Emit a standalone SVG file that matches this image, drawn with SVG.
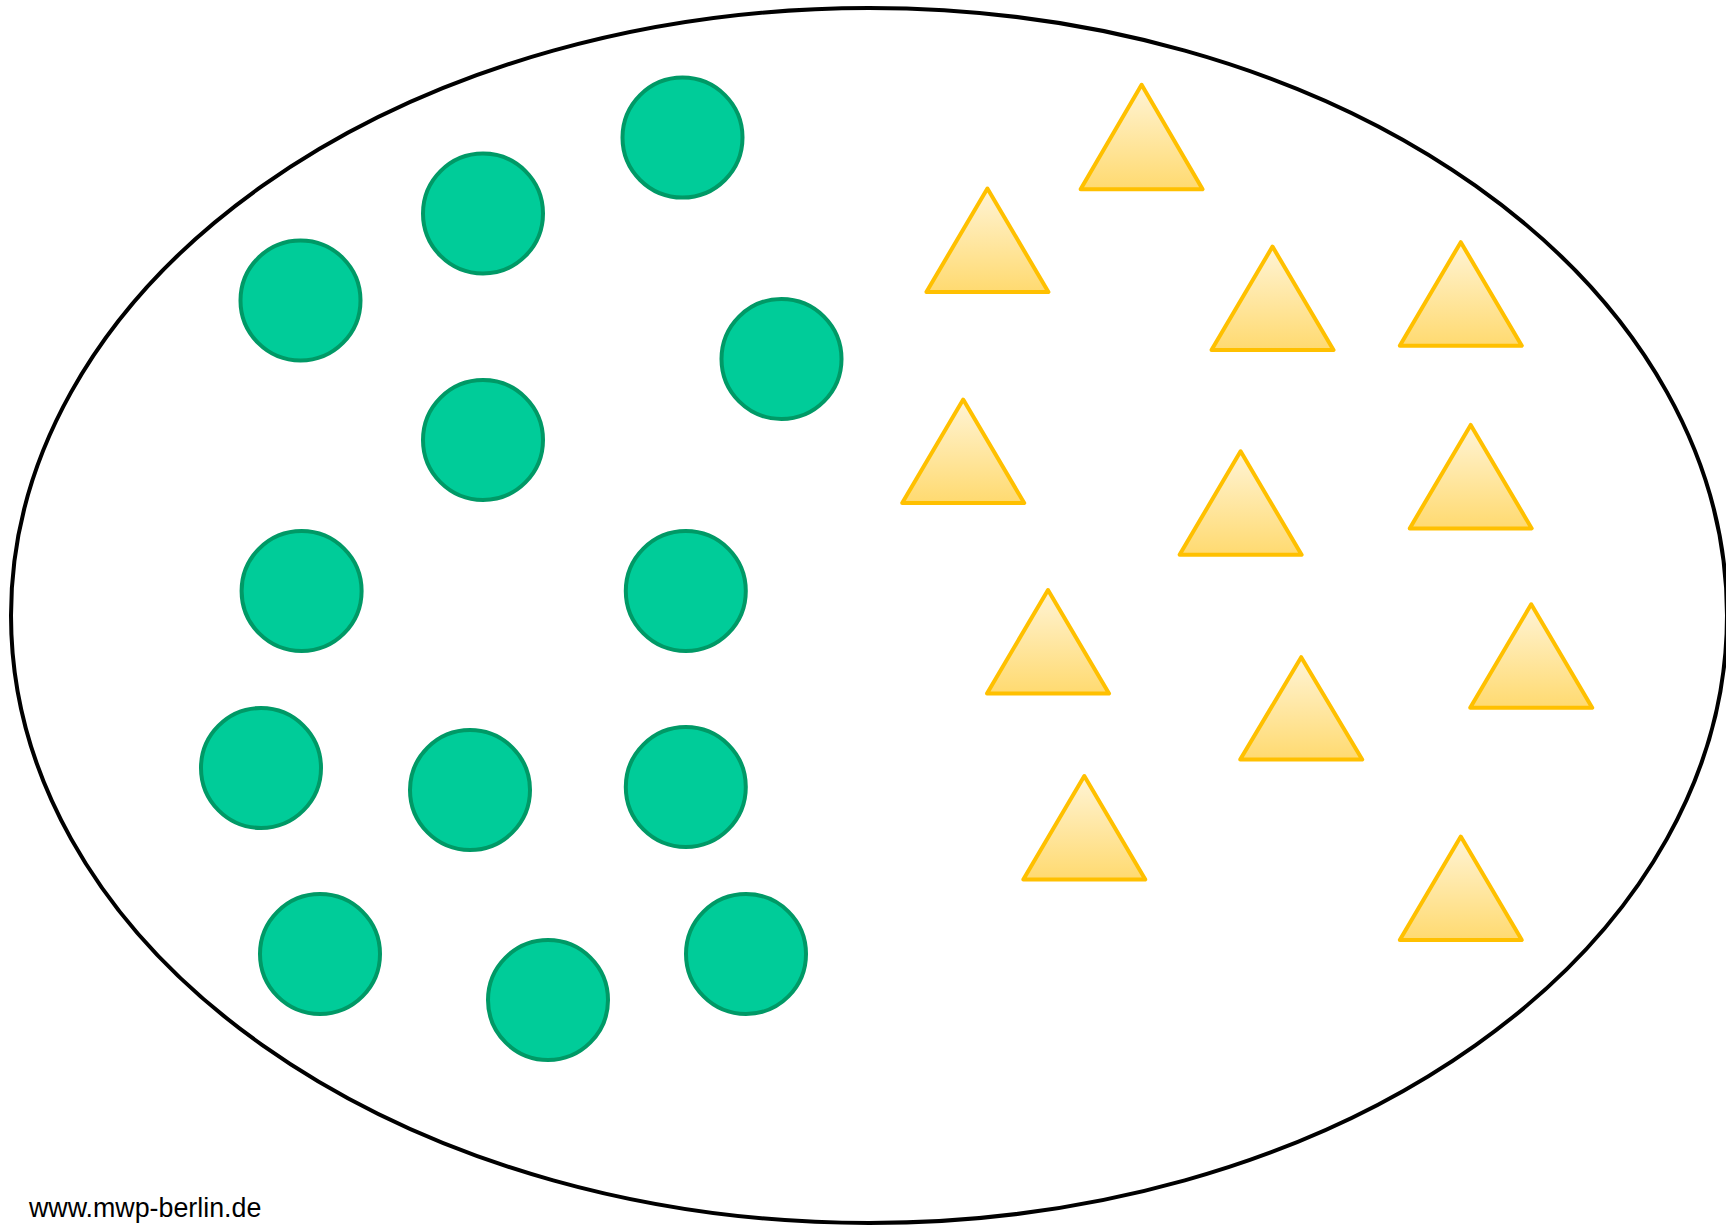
<svg xmlns="http://www.w3.org/2000/svg" width="1726" height="1226" viewBox="0 0 1726 1226">
<defs>
<linearGradient id="tg" x1="0" y1="0" x2="0" y2="1">
<stop offset="0" stop-color="#FFF4D6"/>
<stop offset="1" stop-color="#FFDA70"/>
</linearGradient>
<style>
.c{fill:#00CC99;stroke:#009966;stroke-width:4}
.t{fill:url(#tg);stroke:#FFC000;stroke-width:4;stroke-linejoin:round}
.e{fill:none;stroke:#000;stroke-width:4}
.lbl{font-family:"Liberation Sans",Arial,sans-serif;font-size:26.8px;fill:#000}
</style>
</defs>
<rect width="1726" height="1226" fill="#fff"/>
<g id="set"><ellipse class="e" cx="869" cy="615.5" rx="858" ry="607.5"/></g>
<g id="circles">
<g id="c1"><circle class="c" cx="682.5" cy="137.6" r="60"/></g>
<g id="c2"><circle class="c" cx="483" cy="213.5" r="60"/></g>
<g id="c3"><circle class="c" cx="300.5" cy="300.5" r="60"/></g>
<g id="c4"><circle class="c" cx="781.5" cy="359" r="60"/></g>
<g id="c5"><circle class="c" cx="483" cy="440" r="60"/></g>
<g id="c6"><circle class="c" cx="301.6" cy="591" r="60"/></g>
<g id="c7"><circle class="c" cx="685.8" cy="591" r="60"/></g>
<g id="c8"><circle class="c" cx="261" cy="768" r="60"/></g>
<g id="c9"><circle class="c" cx="470" cy="790" r="60"/></g>
<g id="c10"><circle class="c" cx="685.8" cy="787" r="60"/></g>
<g id="c11"><circle class="c" cx="320" cy="954" r="60"/></g>
<g id="c12"><circle class="c" cx="548" cy="1000" r="60"/></g>
<g id="c13"><circle class="c" cx="746" cy="954" r="60"/></g>
</g>
<g id="triangles">
<g id="t1"><polygon class="t" points="1141.6,84.8 1202.6,189.3 1080.6,189.3"/></g>
<g id="t2"><polygon class="t" points="987.4,188.5 1048.4,292 926.4,292"/></g>
<g id="t3"><polygon class="t" points="1272.5,246.6 1333.5,350 1211.5,350"/></g>
<g id="t4"><polygon class="t" points="1460.8,242.2 1521.8,345.7 1399.8,345.7"/></g>
<g id="t5"><polygon class="t" points="963.2,399.6 1024.2,503 902.2,503"/></g>
<g id="t6"><polygon class="t" points="1240.6,451.3 1301.6,554.8 1179.6,554.8"/></g>
<g id="t7"><polygon class="t" points="1470.7,424.9 1531.7,528.4 1409.7,528.4"/></g>
<g id="t8"><polygon class="t" points="1048,590 1109,693.5 987,693.5"/></g>
<g id="t9"><polygon class="t" points="1531.2,604.3 1592.2,707.8 1470.2,707.8"/></g>
<g id="t10"><polygon class="t" points="1301.2,657.2 1362.2,759.6 1240.2,759.6"/></g>
<g id="t11"><polygon class="t" points="1084.3,776 1145.3,879.5 1023.3,879.5"/></g>
<g id="t12"><polygon class="t" points="1460.8,836.6 1521.8,940.1 1399.8,940.1"/></g>
</g>
<text class="lbl" x="29" y="1217">www.mwp-berlin.de</text>
</svg>
